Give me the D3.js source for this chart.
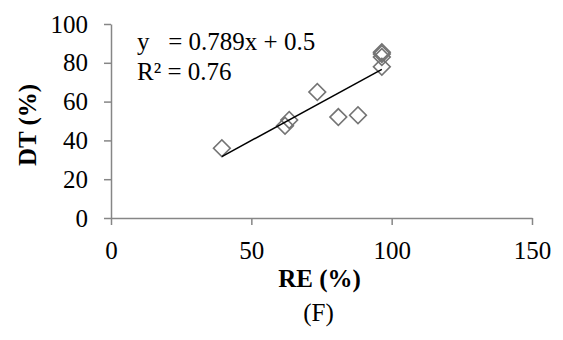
<!DOCTYPE html>
<html>
<head>
<meta charset="utf-8">
<script src="https://cdn.jsdelivr.net/npm/d3@7"></script>
<style>
  body { margin: 0; background: #fff; }
  svg text { font-family: "Liberation Serif", "Times New Roman", serif; fill: #000; }
</style>
</head>
<body>
<div id="chart"></div>
<script>
// RE (%) vs DT (%) observations
const reValues = [39.5, 62, 63.5, 73.5, 81, 88, 96.5, 96.5, 96.5, 96.5];
const dtValues = [36, 47.5, 50.5, 65, 52, 53, 85.5, 84.5, 83, 78];
const xTicks = [0, 50, 100, 150];
const yTicks = [0, 20, 40, 60, 80, 100];
const slope = 0.789, intercept = 0.5;
const eqLabel = "y   = 0.789x + 0.5";
const r2Label = "R² = 0.76";

const fullW = 563, fullH = 340;
const margin = { top: 24, right: 31, bottom: 122, left: 111 };
const W = fullW - margin.left - margin.right;
const H = fullH - margin.top - margin.bottom;
const fs = 25;

const svg = d3.select("#chart").append("svg")
  .attr("width", fullW).attr("height", fullH);
const g = svg.append("g").attr("transform", `translate(${margin.left},${margin.top})`);

const x = d3.scaleLinear().domain([0, 150]).range([0, W]);
const y = d3.scaleLinear().domain([0, 100]).range([H, 0]);

const axisColour = "#868686";

// x axis
const xAxisG = g.append("g").attr("transform", `translate(0,${H})`)
  .call(d3.axisBottom(x).tickValues(xTicks).tickSize(7).tickPadding(16).tickSizeOuter(0));
// y axis
const yAxisG = g.append("g")
  .call(d3.axisLeft(y).tickValues(yTicks).tickSize(7).tickPadding(16).tickSizeOuter(0));

[xAxisG, yAxisG].forEach(a => {
  a.attr("font-size", fs).attr("font-family", null);
  a.select(".domain").attr("stroke", axisColour).attr("stroke-width", 1.5);
  a.selectAll(".tick line").attr("stroke", axisColour).attr("stroke-width", 1.5);
  a.selectAll(".tick text").attr("fill", "#000");
});

// Axis titles
g.append("text")
  .attr("text-anchor", "middle")
  .attr("x", W / 2 - 2)
  .attr("y", H + 69)
  .attr("font-size", fs)
  .attr("font-weight", "bold")
  .text("RE (%)");

g.append("text")
  .attr("text-anchor", "middle")
  .attr("transform", `translate(-75,${H / 2 + 4}) rotate(-90)`)
  .attr("font-size", fs)
  .attr("font-weight", "bold")
  .text("DT (%)");

g.append("text")
  .attr("text-anchor", "middle")
  .attr("x", W / 2 - 3)
  .attr("y", H + 103)
  .attr("font-size", fs)
  .text("(F)");

// Markers
const data = reValues.map((v, i) => ({ re: v, dt: dtValues[i] }));
const diamond = d3.symbol().type(d3.symbolSquare).size(140);
g.selectAll(".pt").data(data).enter()
  .append("path")
  .attr("class", "pt")
  .attr("d", diamond)
  .attr("transform", d => `translate(${x(d.re)},${y(d.dt)}) rotate(45)`)
  .attr("fill", "none")
  .attr("stroke", "#747474")
  .attr("stroke-width", 1.6);

// Trend line
const xr = d3.extent(reValues);
g.append("line")
  .attr("x1", x(xr[0])).attr("y1", y(slope * xr[0] + intercept))
  .attr("x2", x(xr[1])).attr("y2", y(slope * xr[1] + intercept))
  .attr("stroke", "#000")
  .attr("stroke-width", 1.5);

// Equation
g.append("text")
  .attr("x", 26).attr("y", 26)
  .attr("font-size", fs)
  .style("white-space", "pre")
  .text(eqLabel);
g.append("text")
  .attr("x", 26).attr("y", 56)
  .attr("font-size", fs)
  .text(r2Label);
</script>
</body>
</html>
